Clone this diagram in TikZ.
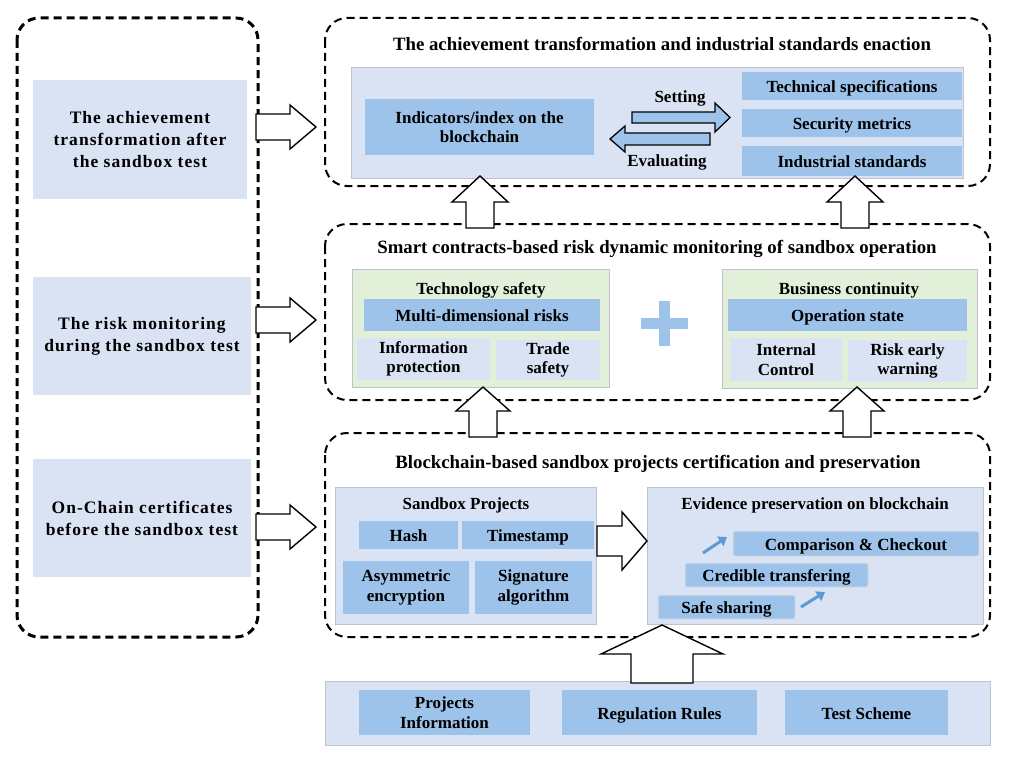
\documentclass[tikz,border=0pt]{standalone}
\usepackage{fontspec}
\setmainfont{Liberation Serif}
\newfontfamily\spaced[LetterSpace=6]{Liberation Serif}
\usetikzlibrary{arrows.meta}
\definecolor{lblue}{RGB}{218,227,243}
\definecolor{dblue}{RGB}{157,195,235}
\definecolor{lgreen}{RGB}{226,240,217}
\definecolor{mblue}{RGB}{91,155,213}
\definecolor{pgray}{RGB}{190,195,205}
\newcommand\myrarrow[7][blockarr]{\draw[#1] ({#2},{#5-#6}) -- ({#3},{#5-#6}) -- ({#3},{#5-#7}) -- ({#4},{#5}) -- ({#3},{#5+#7}) -- ({#3},{#5+#6}) -- ({#2},{#5+#6}) -- cycle;}
\newcommand\myuarrow[6]{\draw[blockarr] ({#1-#5},{#4}) -- ({#1-#5},{#3}) -- ({#1-#6},{#3}) -- ({#1},{#2}) -- ({#1+#6},{#3}) -- ({#1+#5},{#3}) -- ({#1+#5},{#4}) -- cycle;}
\begin{document}
\begin{tikzpicture}[x=1pt,y=-1pt,
  every node/.style={font=\fontsize{17}{19.5}\selectfont\bfseries, align=center, inner sep=0pt},
  one/.style={text height=14.5pt, text depth=1.5pt},
  lbox/.style={fill=lblue, draw=none},
  dbox/.style={fill=dblue, draw=none},
  gbox/.style={fill=lgreen, draw=pgray, line width=0.6pt},
  panel/.style={fill=lblue, draw=pgray, line width=0.8pt},
  sbox/.style={fill=dblue, draw=pgray!60, line width=1pt, rounded corners=2pt},
  leftbox/.style={fill=lblue, draw=none, font=\fontsize{17.5}{22}\selectfont\bfseries\spaced},
  ttl/.style={font=\fontsize{18.8}{20}\selectfont\bfseries},
  dashbox/.style={draw=black, line width=2pt, dash pattern=on 8pt off 5pt, rounded corners=22pt},
  blockarr/.style={draw=black, fill=white, line width=1.4pt, line join=miter},
  fillarr/.style={draw=black, fill=dblue, line width=1.3pt, line join=miter},
  smallarr/.style={draw=mblue, line width=3pt, -{Triangle[length=8pt,width=11pt]}}
]
\useasboundingbox (0,0) rectangle (1010,760);
% dashed frames
\draw[dashbox, line width=3pt] (17,18) rectangle (258,637);
\draw[dashbox] (325,18) rectangle (990,186);
\draw[dashbox] (325,224) rectangle (990,400);
\draw[dashbox] (325,433) rectangle (990,637);
% left boxes
\node[leftbox, minimum width=214, minimum height=119] (L1) at (140,139.5) {The achievement\\transformation after\\the sandbox test};
\node[leftbox, minimum width=218, minimum height=118] (L2) at (142,336) {The risk monitoring\\during the sandbox test};
\node[leftbox, minimum width=218, minimum height=118] (L3) at (142,518) {On-Chain certificates\\before the sandbox test};
% top section
\node[ttl, one] (T1) at (662,44) {The achievement transformation and industrial standards enaction};
\node[panel, minimum width=612, minimum height=111] (P1) at (657,122.5) {};
\node[dbox, minimum width=229, minimum height=56] (ind) at (479.5,127) {Indicators/index on the\\blockchain};
\node[dbox, one, minimum width=220, minimum height=28] (tech) at (852,86) {Technical specifications};
\node[dbox, one, minimum width=220, minimum height=28] (sec) at (852,123) {Security metrics};
\node[dbox, one, minimum width=220, minimum height=30] (indus) at (852,161) {Industrial standards};
\node[one] (setl) at (680,96) {Setting};
\node[one] (evl) at (667,160) {Evaluating};
\myrarrow[fillarr]{632}{715}{730}{117.5}{5.5}{14.5}
\myrarrow[fillarr]{710}{625}{610}{139}{6}{13}
% middle section
\node[ttl, one] (T2) at (657,247) {Smart contracts-based risk dynamic monitoring of sandbox operation};
\node[gbox, minimum width=257, minimum height=118] (G1) at (480.5,328) {};
\node[one] (G1l) at (481,288) {Technology safety};
\node[dbox, one, minimum width=236, minimum height=32] (multi) at (482,315) {Multi-dimensional risks};
\node[lbox, minimum width=133, minimum height=42] (info) at (423.5,359) {Information\\protection};
\node[lbox, minimum width=104, minimum height=40] (trade) at (548,360) {Trade\\safety};
\node[gbox, minimum width=255, minimum height=119] (G2) at (849.5,328.5) {};
\node[one] (G2l) at (849,288) {Business continuity};
\node[dbox, one, minimum width=239, minimum height=32] (oper) at (847.5,315) {Operation state};
\node[lbox, minimum width=112, minimum height=43] (intc) at (786,359.5) {Internal\\Control};
\node[lbox, minimum width=119, minimum height=42] (riskw) at (907.5,361) {Risk early\\warning};
\fill[dblue] (641,318) rectangle (688,329);
\fill[dblue] (659,301) rectangle (670,346);
% bottom section
\node[ttl, one] (T3) at (658,462) {Blockchain-based sandbox projects certification and preservation};
\node[panel, minimum width=261, minimum height=137] (SP) at (465.5,555.5) {};
\node[one] (SPl) at (466,503) {Sandbox Projects};
\node[dbox, one, minimum width=99, minimum height=28] (hash) at (408.5,535) {Hash};
\node[dbox, one, minimum width=132, minimum height=28] (time) at (528,535) {Timestamp};
\node[dbox, minimum width=126, minimum height=53] (asym) at (406,587.5) {Asymmetric\\encryption};
\node[dbox, minimum width=117, minimum height=53] (sig) at (533.5,587.5) {Signature\\algorithm};
\node[panel, minimum width=336, minimum height=137] (EV) at (815,555.5) {};
\node[one] (EVl) at (815,503) {Evidence preservation on blockchain};
\node[sbox, one, minimum width=246, minimum height=25] (comp) at (856,543.5) {Comparison \& Checkout};
\node[sbox, one, minimum width=183, minimum height=24] (cred) at (776.5,575) {Credible transfering};
\node[sbox, one, minimum width=137, minimum height=24] (safe) at (726.5,607) {Safe sharing};
\coordinate (a1s) at (703,553); \coordinate (a1e) at (727,537);
\coordinate (a2s) at (801,607); \coordinate (a2e) at (825,592);
\draw[smallarr] (a1s) -- (a1e);
\draw[smallarr] (a2s) -- (a2e);
% bottom panel
\node[panel, minimum width=665, minimum height=64] (BP) at (657.5,713) {};
\node[dbox, minimum width=171, minimum height=45] (pinfo) at (444.5,712.5) {Projects\\Information};
\node[dbox, one, minimum width=195, minimum height=45] (reg) at (659.5,712.5) {Regulation Rules};
\node[dbox, one, minimum width=163, minimum height=45] (test) at (866.5,712.5) {Test Scheme};
% block arrows
\myrarrow{256}{290}{316}{127}{13}{22}
\myrarrow{256}{290}{316}{320}{13}{22}
\myrarrow{256}{290}{316}{527}{13}{22}
\myuarrow{480}{176}{202}{228}{14}{28}
\myuarrow{855}{176}{202}{228}{14}{28}
\myuarrow{483}{387}{411}{437}{14}{27}
\myuarrow{857}{387}{411}{437}{14}{27}
\myrarrow{597}{622}{647}{541}{15}{29}
\myuarrow{662}{625}{654}{683}{31}{61}
\end{tikzpicture}
\end{document}
